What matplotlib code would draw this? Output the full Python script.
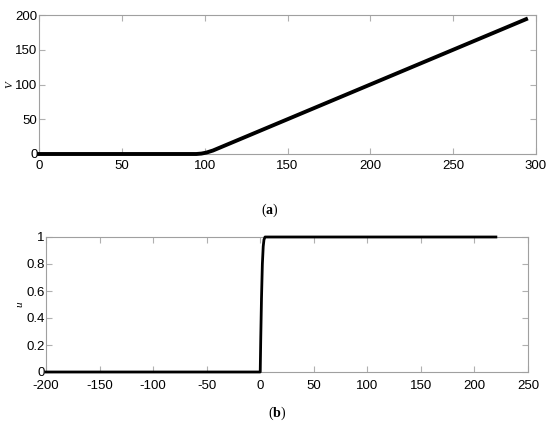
import numpy as np
from matplotlib import pyplot as plt

# data
v_x = [0, 95, 98, 101, 105, 150, 200, 250, 294]
v_y = [0, 0, 0.6, 2.0, 5.0, 50, 100, 150, 194]

u_x = [-200, 0, 0.5, 1.2, 2.0, 2.8, 3.5, 4.5, 220]
u_y = [0, 0, 0.25, 0.55, 0.8, 0.93, 0.98, 1.0, 1.0]

plt.rcParams['font.family'] = ['Liberation Sans', 'DejaVu Sans']
plt.rcParams['axes.unicode_minus'] = False
plt.rcParams['mathtext.fontset'] = 'custom'
plt.rcParams['mathtext.rm'] = 'Liberation Serif'
plt.rcParams['mathtext.bf'] = 'Liberation Serif:bold'

fig = plt.figure(figsize=(5.5, 4.26), dpi=100)

W, H = 550, 426
ax1 = fig.add_axes([39 / W, 1 - 154 / H, (536 - 39) / W, (154 - 15) / H])
ax2 = fig.add_axes([46 / W, 1 - 372 / H, (528 - 46) / W, (372 - 237) / H])

ax1.plot(v_x, v_y, color='black', lw=2.8, clip_on=False, zorder=5)
ax1.set_xlim(0, 300)
ax1.set_ylim(0, 200)
ax1.set_xticks(np.arange(0, 301, 50))
ax1.set_yticks(np.arange(0, 201, 50))
ax1.set_ylabel('V', family='Liberation Serif', style='italic', fontsize=8, labelpad=1)

ax2.plot(u_x, u_y, color='black', lw=2, clip_on=False, zorder=5)
ax2.set_xlim(-200, 250)
ax2.set_ylim(0, 1)
ax2.set_xticks(np.arange(-200, 251, 50))
ax2.set_yticks([0, 0.2, 0.4, 0.6, 0.8, 1])
ax2.set_yticklabels(['0', '0.2', '0.4', '0.6', '0.8', '1'])
ax2.set_ylabel('u', family='Liberation Serif', style='italic', fontsize=8, labelpad=1)

for ax in (ax1, ax2):
    for s in ax.spines.values():
        s.set_color('#a0a0a0')
        s.set_linewidth(0.8)
    ax.tick_params(direction='in', top=True, right=True, length=4, width=0.8,
                   color='#b0b0b0', labelsize=9.5)
    ax.tick_params(axis='y', pad=1)
ax1.tick_params(axis='x', pad=4)
ax2.tick_params(axis='x', pad=6)

fig.text(270 / W, 1 - 210 / H, r'($\mathbf{a}$)', ha='center', va='center',
         family='Liberation Serif', fontsize=10)
fig.text(277 / W, 1 - 413 / H, r'($\mathbf{b}$)', ha='center', va='center',
         family='Liberation Serif', fontsize=10)

plt.savefig('out.png', dpi=100)
